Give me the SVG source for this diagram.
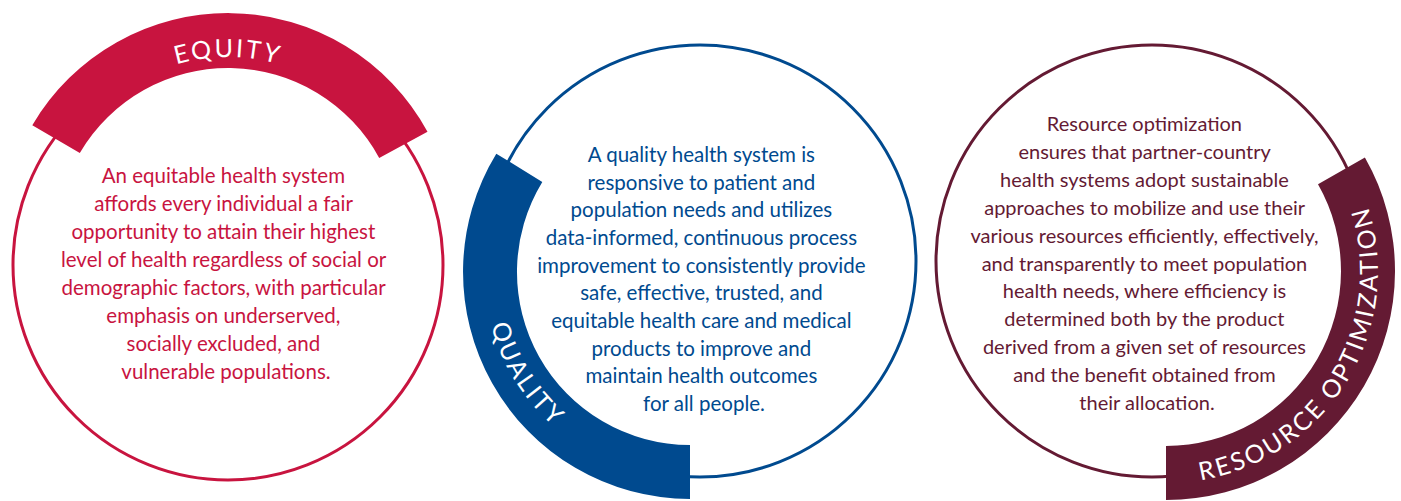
<svg xmlns="http://www.w3.org/2000/svg" xmlns:xlink="http://www.w3.org/1999/xlink" width="1401" height="501" viewBox="0 0 1401 501">
  <style>
    .ring { fill: none; stroke-width: 3; }
    .body { font-family: Lato, "Liberation Sans", sans-serif; font-size: 20.5px; text-anchor: middle; }
    .body.resource { font-size: 20px; }
    .label { font-family: Lato, "Liberation Sans", sans-serif; font-size: 25px; fill: #ffffff; letter-spacing: 2.5px; }
    .equity { fill: #c8143f; }
    .quality { fill: #004a8f; }
    .resource { fill: #641a33; }
  </style>
  <defs>
    <path id="equity-label-path" d="M 45 240 A 183 183 0 0 1 411 240"/>
    <path id="quality-label-path" d="M 508.1 175.3 A 206 206 0 0 0 697.2 477.9"/>
    <path id="resource-label-path" d="M 1124.8 479 A 212 212 0 0 0 1331.2 138.2"/>
  </defs>
  <rect width="1401" height="501" fill="#ffffff"/>

  <g id="equity">
    <circle class="ring" cx="228" cy="265" r="215" stroke="#c8143f"/>
    <path class="equity" d="M 32.3 125.2 A 227 227 0 0 1 427.5 131.7 L 379.2 157.9 A 172 172 0 0 0 79.8 152.9 Z"/>
    <text class="label"><textPath xlink:href="#equity-label-path" startOffset="50%" text-anchor="middle">EQUITY</textPath></text>
    <text class="body equity">
      <tspan x="226" y="183">An equitable health system</tspan>
      <tspan x="226" y="211">affords every individual a fair</tspan>
      <tspan x="226" y="239">opportunity to attain their highest</tspan>
      <tspan x="226" y="267">level of health regardless of social or</tspan>
      <tspan x="226" y="295">demographic factors, with particular</tspan>
      <tspan x="226" y="323">emphasis on underserved,</tspan>
      <tspan x="226" y="351">socially excluded, and</tspan>
      <tspan x="226" y="379">vulnerable populations.</tspan>
    </text>
  </g>

  <g id="quality">
    <circle class="ring" cx="700" cy="261" r="216" stroke="#004a8f"/>
    <path class="quality" d="M 690 499 A 227 227 0 0 1 496.3 153.7 L 542.3 181.9 A 173 173 0 0 0 690 445 Z"/>
    <text class="label"><textPath xlink:href="#quality-label-path" startOffset="50%" text-anchor="middle">QUALITY</textPath></text>
    <text class="body quality">
      <tspan x="704" y="162">A quality health system is</tspan>
      <tspan x="704" y="190">responsive to patient and</tspan>
      <tspan x="704" y="217">population needs and utilizes</tspan>
      <tspan x="704" y="245">data-informed, continuous process</tspan>
      <tspan x="704" y="273">improvement to consistently provide</tspan>
      <tspan x="704" y="300">safe, effective, trusted, and</tspan>
      <tspan x="704" y="328">equitable health care and medical</tspan>
      <tspan x="704" y="356">products to improve and</tspan>
      <tspan x="704" y="383">maintain health outcomes</tspan>
      <tspan x="704" y="411">for all people.</tspan>
    </text>
  </g>

  <g id="resource-optimization">
    <circle class="ring" cx="1152" cy="261" r="216" stroke="#641a33"/>
    <path class="resource" d="M 1364.9 157.5 A 229 229 0 0 1 1166 500 L 1166 446 A 175 175 0 0 0 1318 184.3 Z"/>
    <text class="label"><textPath xlink:href="#resource-label-path" startOffset="50%" text-anchor="middle">RESOURCE OPTIMIZATION</textPath></text>
    <text class="body resource">
      <tspan x="1147" y="131">Resource optimization</tspan>
      <tspan x="1147" y="159">ensures that partner-country</tspan>
      <tspan x="1147" y="187">health systems adopt sustainable</tspan>
      <tspan x="1147" y="215">approaches to mobilize and use their</tspan>
      <tspan x="1147" y="243">various resources efficiently, effectively,</tspan>
      <tspan x="1147" y="271">and transparently to meet population</tspan>
      <tspan x="1147" y="298">health needs, where efficiency is</tspan>
      <tspan x="1147" y="326">determined both by the product</tspan>
      <tspan x="1147" y="354">derived from a given set of resources</tspan>
      <tspan x="1147" y="382">and the benefit obtained from</tspan>
      <tspan x="1147" y="410">their allocation.</tspan>
    </text>
  </g>

  <g id="connectors"/>
</svg>
